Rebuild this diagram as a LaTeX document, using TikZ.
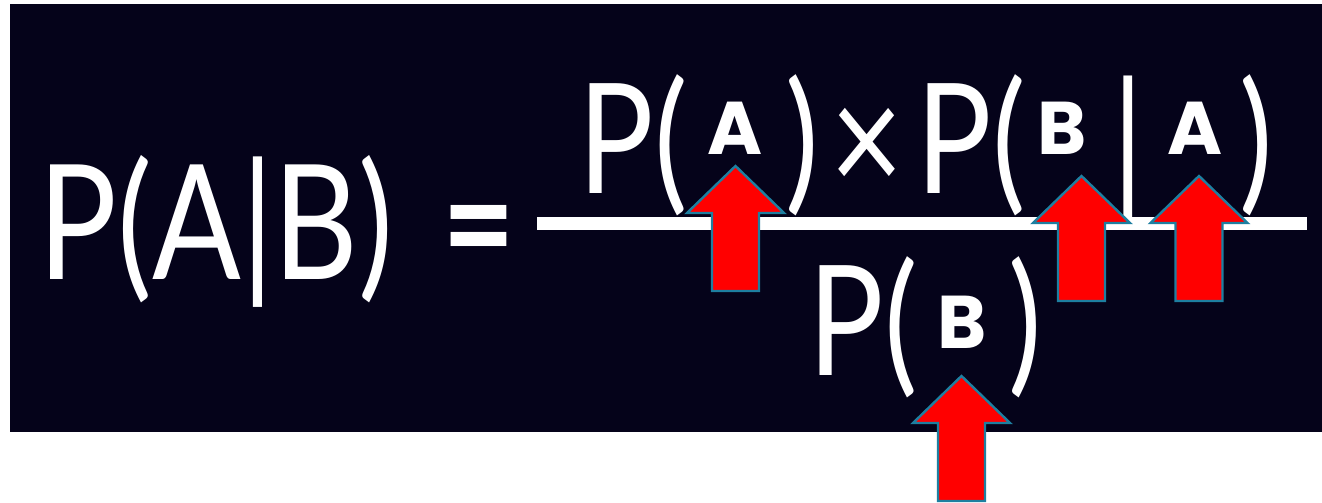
\documentclass[tikz,border=0pt]{standalone}
\usepackage{fontspec}
\usepackage{xcolor}
\usepackage{tikz}
\usetikzlibrary{positioning, calc}

\newfontfamily\glyphfont{Lato}[FakeStretch=0.82]
\newfontfamily\tagfont{Poppins}
\definecolor{boardbg}{HTML}{05031A}
\definecolor{arrowrim}{HTML}{1E7FA0}
\definecolor{arrowred}{HTML}{FF0000}

\begin{document}
\begin{tikzpicture}[x=0.75pt, y=-0.75pt,
			glyph/.style={white, inner sep=0pt, anchor=base,
				font=\glyphfont\fontsize{115}{115}\selectfont},
			tag/.style={white, inner sep=0pt, anchor=base,
				font=\tagfont\bfseries\fontsize{56}{56}\selectfont},
			arrowbody/.style={fill=arrowred, draw=arrowrim, line width=1.8pt,
				line join=miter},
			uparrow/.pic={
				\draw[arrowbody] (0,0) -- (48.5,47) -- (23.5,47) -- (23.5,125)
				-- (-23.5,125) -- (-23.5,47) -- (-48.5,47) -- cycle;
			}]
			% page and dark board (1 unit = 1 pixel of the original)
			\useasboundingbox (0,0) rectangle (1322,503);
			\fill[white] (0,0) rectangle (1322,503);
			\fill[boardbg] (10,4) rectangle (1322,432);
			% left-hand side
			\node[glyph, font=\glyphfont\fontsize{120}{120}\selectfont]
			(lhs) at (216,279) {P(A|B)};
			\node[glyph, font=\glyphfont\bfseries\fontsize{115}{115}\selectfont]
			(eq) at (479,277) {=};
			% fraction bar
			\fill[white] (537,217) rectangle (1307,230);
			% numerator
			\node[glyph] (numP) at (633,193) {P(};
			\node[tag] (numA) at (735.5,155) {A};
			\node[glyph] (numR) at (802,193) {)};
			\node[glyph] (numX) at (867,193) {×};
			\node[glyph] (condP) at (971,193) {P(};
			\node[tag] (condB) at (1062.5,155) {B};
			\node[glyph] (condBar) at (1128,193) {|};
			\node[tag] (condA) at (1195,155) {A};
			\node[glyph] (condR) at (1256.5,193) {)};
			% denominator
			\node[glyph] (denP) at (863.5,375) {P(};
			\node[tag] (denB) at (962.5,348) {B};
			\node[glyph] (denR) at (1025,375) {)};
			% red arrows pointing up at the event letters
			\pic at (735.5,166) {uparrow};
			\pic at (1081.5,176) {uparrow};
			\pic at (1199,176) {uparrow};
			\pic at (961.5,376) {uparrow};
		\end{tikzpicture}
\end{document}
